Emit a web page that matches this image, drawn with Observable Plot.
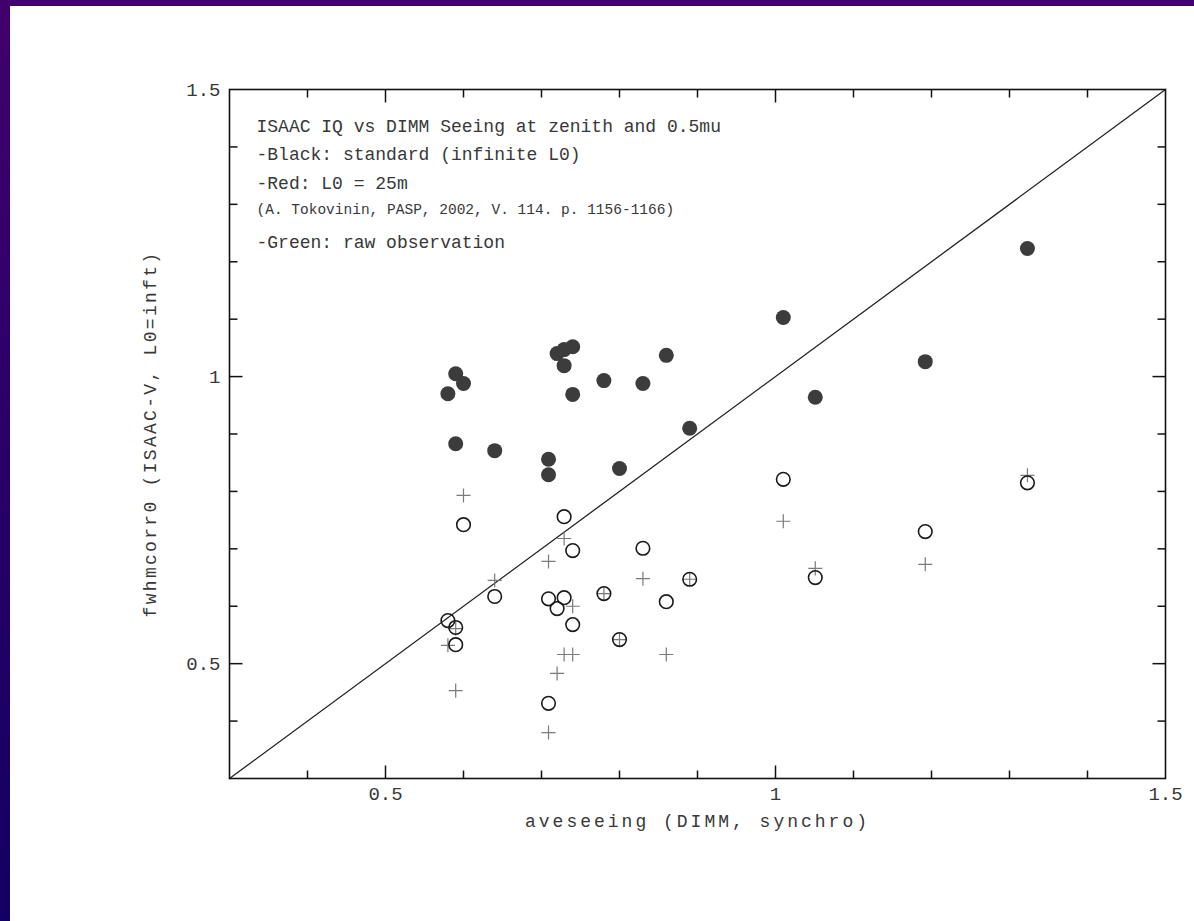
<!DOCTYPE html>
<html><head><meta charset="utf-8">
<script src="https://cdn.jsdelivr.net/npm/d3@7"></script>
<script src="https://cdn.jsdelivr.net/npm/@observablehq/plot@0.6"></script>
<style>
html,body{margin:0;padding:0;background:#fff;overflow:hidden}
#wrap{position:relative;width:1194px;height:921px;background:#fff}
#topbar{position:absolute;left:0;top:0;width:1194px;height:6px;background:#42006e;z-index:2}
#leftbar{position:absolute;left:0;top:0;width:10px;height:921px;background:linear-gradient(#42006e,#120062);z-index:2}
#chart{position:absolute;left:0;top:0}
</style></head><body>
<div id="wrap"><div id="topbar"></div><div id="leftbar"></div><div id="chart"></div></div>
<script>
// x: DIMM seeing (synchro)
const seeing = [0.580, 0.590, 0.590, 0.600, 0.640, 0.709, 0.709, 0.720, 0.729, 0.729, 0.740,
                0.740, 0.780, 0.800, 0.830, 0.860, 0.890, 1.010, 1.051, 1.192, 1.323];
// filled circles: standard (infinite L0)
const fwhmStandard = [0.970, 1.005, 0.883, 0.988, 0.871, 0.856, 0.829, 1.040, 1.047, 1.019, 1.052,
                      0.969, 0.993, 0.840, 0.988, 1.037, 0.910, 1.103, 0.964, 1.026, 1.223];
// open circles: L0 = 25m
const fwhmL0 = [0.575, 0.563, 0.533, 0.742, 0.617, 0.613, 0.431, 0.596, 0.756, 0.615, 0.697,
                0.568, 0.622, 0.542, 0.701, 0.608, 0.647, 0.821, 0.650, 0.730, 0.815];
// plus signs: raw observation
const fwhmRaw = [0.532, 0.561, 0.453, 0.793, 0.645, 0.678, 0.380, 0.483, 0.718, 0.516, 0.600,
                 0.516, 0.622, 0.542, 0.648, 0.516, 0.647, 0.748, 0.666, 0.673, 0.828];

const axisDomain = [0.3, 1.5];
const tickLabels = [0.5, 1, 1.5];
const majorTicks = [0.5, 1.0];
const minorTicks = [0.4, 0.6, 0.7, 0.8, 0.9, 1.1, 1.2, 1.3, 1.4];
const xTitle = "aveseeing (DIMM, synchro)";
const yTitle = "fwhmcorr0 (ISAAC-V, L0=inft)";
const noteLines = [
  "ISAAC IQ vs DIMM Seeing at zenith and 0.5mu",
  "-Black: standard (infinite L0)",
  "-Red: L0 = 25m",
  "(A. Tokovinin, PASP, 2002, V. 114. p. 1156-1166)",
  "-Green: raw observation"
];

const rows = seeing.map((s, i) => ({s, a: fwhmStandard[i], b: fwhmL0[i], c: fwhmRaw[i]}));

const tickSym = (ux, uy) => ({
  draw(ctx, size) {
    const L = Math.sqrt(size / Math.PI);
    ctx.moveTo(0, 0);
    ctx.lineTo(ux * L, uy * L);
  }
});
const FONT = "Liberation Mono, DejaVu Sans Mono, monospace";
const ink = "#383838";

function edgeTicks(values, len) {
  return [
    Plot.dot(values, {x: d => d, y: () => axisDomain[0], symbol: tickSym(0, -1), r: len, stroke: "#111", strokeWidth: 1.5, fill: "none"}),
    Plot.dot(values, {x: d => d, y: () => axisDomain[1], symbol: tickSym(0, 1), r: len, stroke: "#111", strokeWidth: 1.5, fill: "none"}),
    Plot.dot(values, {y: d => d, x: () => axisDomain[0], symbol: tickSym(1, 0), r: len, stroke: "#111", strokeWidth: 1.5, fill: "none"}),
    Plot.dot(values, {y: d => d, x: () => axisDomain[1], symbol: tickSym(-1, 0), r: len, stroke: "#111", strokeWidth: 1.5, fill: "none"})
  ];
}

const noteLayout = [
  {dy: 30, size: 18},
  {dy: 58, size: 18},
  {dy: 86.5, size: 18},
  {dy: 114, size: 14.5},
  {dy: 146, size: 18}
];

const chart = Plot.plot({
  width: 1194,
  height: 921,
  marginLeft: 229,
  marginRight: 29,
  marginTop: 89,
  marginBottom: 143,
  x: {domain: axisDomain, axis: null},
  y: {domain: axisDomain, axis: null},
  style: {background: "transparent", fontFamily: FONT, color: ink},
  marks: [
    Plot.line(axisDomain, {x: d => d, y: d => d, stroke: "#222", strokeWidth: 1.3}),
    ...edgeTicks(minorTicks, 8),
    ...edgeTicks(majorTicks, 13),
    Plot.frame({stroke: "#111", strokeWidth: 1.6}),
    Plot.dot(rows, {x: "s", y: "c", symbol: "plus", r: 4.6, stroke: "#7a7a7a", strokeWidth: 1.2}),
    Plot.dot(rows, {x: "s", y: "b", symbol: "circle", r: 6.8, stroke: "#1a1a1a", strokeWidth: 1.6, fill: "none"}),
    Plot.dot(rows, {x: "s", y: "a", r: 7.5, fill: "#3c3c3c", stroke: "none"}),
    Plot.text(tickLabels, {x: d => d, frameAnchor: "bottom", dy: 21, text: d => String(d), fontSize: 19, fill: ink, ariaLabel: "xticklabel"}),
    Plot.text(tickLabels, {y: d => d, frameAnchor: "left", dx: -9, textAnchor: "end", text: d => String(d), fontSize: 19, fill: ink, ariaLabel: "yticklabel"}),
    Plot.text([xTitle], {frameAnchor: "bottom", dy: 48, textAnchor: "middle", text: d => d, fontSize: 18, fill: ink}),
    Plot.text([yTitle], {frameAnchor: "left", dx: -79, rotate: -90, textAnchor: "middle", text: d => d, fontSize: 18, fill: ink}),
    ...noteLines.map((t, i) => Plot.text([t], {frameAnchor: "top-left", dx: 27, dy: noteLayout[i].dy, textAnchor: "start", text: d => d, fontSize: noteLayout[i].size, fill: ink}))
  ]
});

document.getElementById("chart").appendChild(chart);
const svg = d3.select(chart);
svg.selectAll('g[aria-label="xticklabel"] text, g[aria-label="yticklabel"] text').style("letter-spacing", "4.5px");
svg.selectAll("text").filter(function() { return this.textContent === xTitle; }).style("letter-spacing", "3px");
svg.selectAll("text").filter(function() { return this.textContent === yTitle; }).style("letter-spacing", "2.3px");
</script>
</body></html>
